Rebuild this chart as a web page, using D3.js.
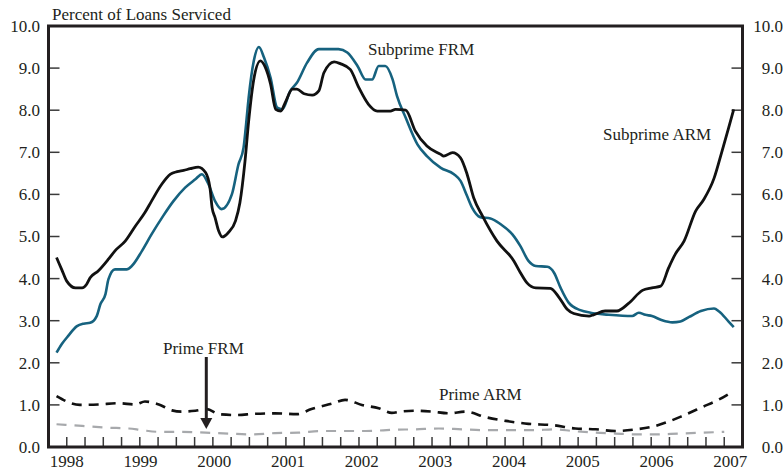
<!DOCTYPE html>
<html>
<head>
<meta charset="utf-8">
<script src="https://cdn.jsdelivr.net/npm/d3@7"></script>
<style>
  body { margin: 0; background: #fff; }
  text { font-family: "Liberation Serif", "Times New Roman", serif; fill: #231f20; }
</style>
</head>
<body>
<div id="chart"></div>
<script>
// [decimal year, percent]
const subprimeARM = [[1997.86,4.50],[1997.93,4.22],[1998.00,3.94],[1998.12,3.78],[1998.21,3.78],[1998.27,3.86],
  [1998.32,4.02],[1998.43,4.18],[1998.57,4.46],[1998.66,4.66],[1998.80,4.89],[1998.94,5.25],[1999.07,5.57],
  [1999.16,5.84],[1999.30,6.24],[1999.42,6.48],[1999.51,6.54],[1999.60,6.57],[1999.69,6.61],[1999.80,6.65],
  [1999.90,6.52],[1999.96,6.16],[1999.99,5.68],[2000.03,5.45],[2000.08,5.13],[2000.13,4.99],[2000.21,5.09],
  [2000.31,5.37],[2000.37,5.80],[2000.44,6.79],[2000.49,7.74],[2000.56,8.73],[2000.65,9.17],[2000.72,9.01],
  [2000.79,8.62],[2000.86,8.02],[2000.93,7.98],[2000.99,8.18],[2001.09,8.50],[2001.15,8.50],[2001.25,8.39],
  [2001.36,8.36],[2001.45,8.46],[2001.52,8.89],[2001.66,9.15],[2001.75,9.10],[2001.88,8.97],[2002.00,8.53],
  [2002.13,8.14],[2002.25,7.98],[2002.43,7.98],[2002.50,8.02],[2002.64,8.00],[2002.77,7.51],[2002.93,7.15],
  [2003.12,6.95],[2003.16,6.91],[2003.28,6.99],[2003.39,6.87],[2003.48,6.48],[2003.57,5.92],[2003.69,5.49],
  [2003.89,4.89],[2004.12,4.42],[2004.21,4.14],[2004.30,3.90],[2004.42,3.78],[2004.62,3.77],[2004.74,3.55],
  [2004.85,3.27],[2004.94,3.17],[2005.15,3.11],[2005.21,3.14],[2005.37,3.23],[2005.53,3.23],[2005.69,3.41],
  [2005.88,3.72],[2006.01,3.78],[2006.13,3.82],[2006.24,4.26],[2006.33,4.58],[2006.45,4.89],[2006.61,5.61],
  [2006.72,5.88],[2006.86,6.38],[2006.97,7.03],[2007.06,7.58],[2007.13,8.02]];

const subprimeFRM = [[1997.86,2.24],[1997.93,2.44],[1998.02,2.64],[1998.14,2.87],[1998.23,2.93],[1998.32,2.95],
  [1998.41,3.11],[1998.46,3.39],[1998.53,3.63],[1998.57,3.98],[1998.66,4.22],[1998.82,4.22],[1998.89,4.30],
  [1999.03,4.66],[1999.16,5.05],[1999.32,5.49],[1999.46,5.84],[1999.62,6.16],[1999.76,6.36],[1999.85,6.48],
  [1999.94,6.24],[2000.03,5.84],[2000.12,5.65],[2000.26,6.00],[2000.35,6.71],[2000.42,7.11],[2000.45,7.58],
  [2000.49,8.30],[2000.56,9.17],[2000.63,9.50],[2000.70,9.25],[2000.79,8.77],[2000.88,8.06],[2000.95,8.02],
  [2001.06,8.46],[2001.15,8.65],[2001.29,9.13],[2001.45,9.45],[2001.72,9.45],[2001.84,9.37],[2001.98,9.05],
  [2002.09,8.73],[2002.18,8.73],[2002.27,9.05],[2002.36,9.05],[2002.46,8.73],[2002.52,8.34],[2002.64,7.82],
  [2002.80,7.19],[2002.93,6.91],[2003.12,6.63],[2003.30,6.48],[2003.39,6.32],[2003.48,5.96],[2003.55,5.68],
  [2003.66,5.46],[2003.80,5.43],[2003.94,5.29],[2004.10,5.05],[2004.21,4.77],[2004.32,4.42],[2004.42,4.30],
  [2004.58,4.28],[2004.67,4.14],[2004.76,3.78],[2004.87,3.43],[2005.03,3.25],[2005.17,3.19],[2005.24,3.17],
  [2005.42,3.14],[2005.74,3.11],[2005.83,3.19],[2005.92,3.14],[2006.01,3.11],[2006.15,3.01],[2006.29,2.96],
  [2006.40,2.98],[2006.52,3.09],[2006.68,3.23],[2006.86,3.29],[2006.93,3.22],[2007.06,2.98],[2007.13,2.85]];

const primeARM = [[1997.86,1.21],[1998.18,1.00],[1998.43,1.01],[1998.71,1.04],[1998.94,1.01],[1999.07,1.08],
  [1999.26,1.01],[1999.44,0.87],[1999.57,0.84],[1999.76,0.86],[1999.92,0.90],[2000.08,0.78],[2000.31,0.76],
  [2000.58,0.79],[2000.85,0.80],[2001.15,0.78],[2001.35,0.90],[2001.63,1.03],[2001.81,1.12],[2002.04,1.00],
  [2002.27,0.92],[2002.45,0.81],[2002.57,0.84],[2002.77,0.86],[2003.00,0.84],[2003.23,0.80],[2003.46,0.84],
  [2003.73,0.71],[2004.01,0.62],[2004.32,0.55],[2004.65,0.52],[2004.96,0.44],[2005.24,0.42],[2005.51,0.38],
  [2005.79,0.42],[2006.01,0.48],[2006.20,0.58],[2006.43,0.74],[2006.70,0.95],[2006.93,1.13],[2007.09,1.29]];

const primeFRM = [[1997.86,0.54],[1998.21,0.50],[1998.55,0.46],[1998.85,0.44],[1999.03,0.40],[1999.26,0.36],
  [1999.57,0.36],[1999.90,0.34],[2000.21,0.32],[2000.53,0.30],[2000.85,0.33],[2001.17,0.34],[2001.49,0.38],
  [2001.77,0.38],[2002.09,0.38],[2002.50,0.41],[2002.77,0.42],[2003.09,0.44],[2003.41,0.42],[2003.73,0.40],
  [2004.05,0.40],[2004.37,0.40],[2004.69,0.42],[2004.92,0.38],[2005.24,0.34],[2005.51,0.32],[2005.79,0.30],
  [2006.06,0.30],[2006.38,0.32],[2006.70,0.34],[2007.00,0.36]];

const yearLabels = [1998, 1999, 2000, 2001, 2002, 2003, 2004, 2005, 2006, 2007];
const yTicks = [0, 1, 2, 3, 4, 5, 6, 7, 8, 9, 10];

(function() {
  const width = 784, height = 472;
  const plotLeft = 48.5, plotRight = 742.5, plotTop = 26, plotBottom = 447;

  const svg = d3.select("#chart").append("svg")
    .attr("width", width)
    .attr("height", height);

  const x = d3.scaleLinear().domain([1997.75, 2007.25]).range([plotLeft, plotRight]);
  const xLabel = d3.scaleLinear().domain([1998, 2007]).range([x(1998), x(2007) + 6]);
  const y = d3.scaleLinear().domain([0, 10]).range([plotBottom, plotTop]);

  const frameColor = "#231f20";
  const tickColor = "#3a3a3a";

  // quarterly ticks along the bottom
  const quarters = d3.range(1998, 2007.01, 0.25);
  svg.append("g").selectAll("line")
    .data(quarters)
    .enter().append("line")
      .attr("x1", d => x(d)).attr("x2", d => x(d))
      .attr("y1", plotBottom).attr("y2", plotBottom - 10)
      .attr("stroke", tickColor)
      .attr("stroke-width", 1.5);

  // left / right ticks
  const innerTicks = yTicks.slice(1, -1);
  svg.append("g").selectAll("line")
    .data(innerTicks)
    .enter().append("line")
      .attr("x1", plotLeft).attr("x2", plotLeft + 11)
      .attr("y1", d => y(d)).attr("y2", d => y(d))
      .attr("stroke", tickColor)
      .attr("stroke-width", 1.5);
  svg.append("g").selectAll("line")
    .data(innerTicks)
    .enter().append("line")
      .attr("x1", plotRight).attr("x2", plotRight - 11)
      .attr("y1", d => y(d)).attr("y2", d => y(d))
      .attr("stroke", tickColor)
      .attr("stroke-width", 1.5);

  const fmt = d3.format(".1f");
  svg.append("g").selectAll("text")
    .data(yTicks)
    .enter().append("text")
      .attr("x", 40)
      .attr("y", d => y(d))
      .attr("dy", "0.35em")
      .attr("text-anchor", "end")
      .style("font-size", "17px")
      .text(fmt);
  svg.append("g").selectAll("text")
    .data(yTicks)
    .enter().append("text")
      .attr("x", 783)
      .attr("y", d => y(d))
      .attr("dy", "0.35em")
      .attr("text-anchor", "end")
      .style("font-size", "17px")
      .text(fmt);

  svg.append("g").selectAll("text")
    .data(yearLabels)
    .enter().append("text")
      .attr("x", d => xLabel(d))
      .attr("y", 467)
      .attr("text-anchor", "middle")
      .style("font-size", "17px")
      .text(d => d);

  svg.append("text")
    .attr("x", 52)
    .attr("y", 20)
    .style("font-size", "17px")
    .text("Percent of Loans Serviced");

  // series
  const line = d3.line()
    .x(d => x(d[0]))
    .y(d => y(d[1]))
    .curve(d3.curveMonotoneX);

  svg.append("path").datum(primeFRM)
    .attr("d", line).attr("fill", "none")
    .attr("stroke", "#a7a9ac").attr("stroke-width", 2.2)
    .attr("stroke-dasharray", "10,8");

  svg.append("path").datum(primeARM)
    .attr("d", line).attr("fill", "none")
    .attr("stroke", "#111").attr("stroke-width", 2.6)
    .attr("stroke-dasharray", "10,7");

  svg.append("path").datum(subprimeFRM)
    .attr("d", line).attr("fill", "none")
    .attr("stroke", "#16627f").attr("stroke-width", 2.6)
    .attr("stroke-linejoin", "round");

  svg.append("path").datum(subprimeARM)
    .attr("d", line).attr("fill", "none")
    .attr("stroke", "#111").attr("stroke-width", 2.8)
    .attr("stroke-linejoin", "round");

  // frame
  svg.append("path")
    .attr("d", `M${plotLeft},${plotBottom}V${plotTop}H${plotRight}V${plotBottom}Z`)
    .attr("fill", "none")
    .attr("stroke", frameColor)
    .attr("stroke-width", 3);

  // labels
  svg.append("text").attr("x", 368).attr("y", 55)
    .style("font-size", "17px").text("Subprime FRM");
  svg.append("text").attr("x", 603).attr("y", 140)
    .style("font-size", "17px").text("Subprime ARM");
  svg.append("text").attr("x", 439).attr("y", 400)
    .style("font-size", "17px").text("Prime ARM");
  svg.append("text").attr("x", 163).attr("y", 354)
    .style("font-size", "17px").text("Prime FRM");

  // arrow to Prime FRM
  const ax = x(1999.91);
  svg.append("line")
    .attr("x1", ax).attr("x2", ax)
    .attr("y1", 357).attr("y2", 420)
    .attr("stroke", frameColor).attr("stroke-width", 3);
  svg.append("path")
    .attr("d", `M${ax - 6},${418}L${ax + 6},${418}L${ax},${429}Z`)
    .attr("fill", frameColor);
})();
</script>
</body>
</html>
